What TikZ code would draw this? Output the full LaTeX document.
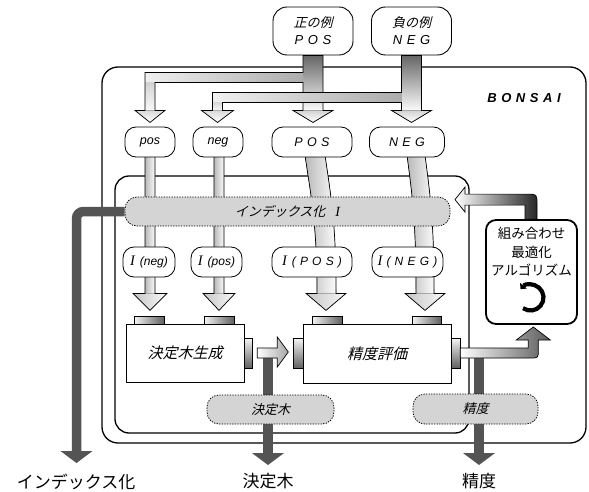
\documentclass[tikz,border=0pt]{standalone}
\usepackage{fontspec}
\setmainfont{Liberation Sans}
\newfontfamily\jp{Noto Sans CJK JP}
\newfontfamily\jpit{Noto Sans CJK JP}[FakeSlant=0.25]
\newfontfamily\spaced{Liberation Sans}[LetterSpace=35]
\newfontfamily\tms{Liberation Serif}
\usetikzlibrary{arrows.meta}
\pgfdeclarelayer{frames}
\pgfdeclarelayer{pipes}
\pgfdeclarelayer{over}
\pgfdeclarelayer{labels}
\pgfsetlayers{frames,pipes,main,over,labels}
\definecolor{pipegray}{gray}{0.33}
\definecolor{barfill}{gray}{0.83}

\begin{document}
\begin{tikzpicture}[x=1pt, y=-1pt,
  frame/.style={draw, line width=1.3pt},
  topbox/.style={draw, fill=white, line width=0.9pt, rounded corners=14pt, minimum width=80pt, minimum height=48pt, inner sep=0pt, align=center, font=\fontsize{13}{17}\selectfont},
  pill/.style={draw, fill=white, line width=0.8pt, rounded corners=11pt, minimum height=30pt, inner sep=0pt, font=\fontsize{12.5}{14}\selectfont},
  dashbar/.style={draw, fill=barfill, line width=0.8pt, dash pattern=on 1.3pt off 1.3pt, rounded corners=12pt, inner sep=0pt, font=\jpit\fontsize{13}{14}\selectfont},
  procbox/.style={draw, fill=white, line width=0.8pt, inner sep=0pt, font=\jpit\fontsize{15}{16}\selectfont},
  port/.style={draw, line width=0.6pt, inner sep=0pt, left color=gray!8, right color=gray!75!black},
  sideport/.style={draw, line width=0.6pt, inner sep=0pt, top color=gray!8, bottom color=gray!75!black},
  darkpipe/.style={draw=pipegray, line width=9.5pt, -{Triangle[length=12pt, width=32pt, line width=0pt]}},
  lightpipe/.style={draw, line width=0.7pt},
  shaftshade/.style={left color=gray!55, right color=gray!3},
  headshade/.style={left color=gray!45, right color=gray!5},
  outlabel/.style={font=\jp\fontsize{17}{19}\selectfont, inner sep=0pt},
  algtext/.style={font=\jp\fontsize{13.5}{18.5}\selectfont, align=center, inner sep=0pt},
  bigI/.style={},
]
\useasboundingbox (0,0) rectangle (589,492);

% ---------- frames ----------
\begin{pgfonlayer}{frames}
  \fill[white] (0,0) rectangle (589,492);
  \draw[frame, rounded corners=16pt] (102,67) rectangle (586,443);
  \draw[frame, rounded corners=14pt] (115,176) rectangle (469,433);
\end{pgfonlayer}

% ---------- nodes ----------
\node[topbox] (pe) at (313,31) {{\jpit 正の例}\\{\spaced\itshape POS}};
\node[topbox] (ne) at (411.5,31) {{\jpit 負の例}\\{\spaced\itshape NEG}};

\node[font=\spaced\bfseries\itshape\fontsize{13}{14}\selectfont] (bonsai) at (524,98) {BONSAI};

\node[pill, minimum width=50pt] (pos) at (150,142) {\itshape pos};
\node[pill, minimum width=50pt] (neg) at (218,142) {\itshape neg};
\node[pill, minimum width=80pt] (POS) at (312,142) {\spaced\itshape POS};
\node[pill, minimum width=75pt] (NEG) at (407,142) {\spaced\itshape NEG};

\node[dashbar, minimum width=325pt, minimum height=29pt] (idx) at (287.5,211.5)
  {インデックス化\hspace{10pt}{\tms\itshape\fontsize{14}{14}\selectfont I}};

\node[pill, minimum width=52pt] (ineg) at (149,262)
  {{\tms\itshape\fontsize{14.5}{14}\selectfont I}\hspace{5pt}{\itshape\fontsize{12}{12}\selectfont (neg)}};
\node[pill, minimum width=51pt] (ipos) at (216.5,262)
  {{\tms\itshape\fontsize{14.5}{14}\selectfont I}\hspace{5pt}{\itshape\fontsize{12}{12}\selectfont (pos)}};
\node[pill, minimum width=80pt] (iPOS) at (312,262)
  {{\tms\itshape\fontsize{14.5}{14}\selectfont I}\hspace{5pt}{\spaced\itshape\fontsize{12}{12}\selectfont (POS)}};
\node[pill, minimum width=71pt] (iNEG) at (407.5,262)
  {{\tms\itshape\fontsize{14.5}{14}\selectfont I}\hspace{4pt}{\spaced\itshape\fontsize{12}{12}\selectfont (NEG)}};

\node[procbox, minimum width=118pt, minimum height=58pt] (gen) at (185,353) {決定木生成};
\node[procbox, minimum width=148pt, minimum height=59pt] (eval) at (377,353.5) {精度評価};

\node[port, minimum width=30pt, minimum height=8pt] (gp1) at (149,320) {};
\node[port, minimum width=30pt, minimum height=8pt] (gp2) at (219,320) {};
\node[sideport, minimum width=8pt, minimum height=30pt] (gport) at (248,353) {};
\node[port, minimum width=30pt, minimum height=8pt] (ep1) at (327,320) {};
\node[port, minimum width=29pt, minimum height=8pt] (ep2) at (426.5,320) {};
\node[sideport, minimum width=10pt, minimum height=30pt] (eportw) at (298,353) {};
\node[sideport, minimum width=9pt, minimum height=30pt] (eporte) at (455.5,353) {};

\node[draw, fill=white, line width=1.8pt, rounded corners=10pt, minimum width=91pt, minimum height=104pt] (alg) at (531.5,272) {};
\node[algtext] (algt) at (531.5,252) {組み合わせ\\最適化\\アルゴリズム};
% the cycle mark of the optimiser
\draw[line width=4.2pt, {Triangle[length=4.5pt,width=9pt,line width=0pt]}-]
  (530.5,297.5) ++(140:13pt) arc[start angle=140, end angle=-125, radius=13pt];

\node[outlabel] (oidx) at (76,482) {インデックス化};
\node[outlabel] (otree) at (268,481) {決定木};
\node[outlabel] (oacc) at (479,481) {精度};
\coordinate (idxend) at (76.5,463);
\coordinate (treeend) at (268,465);
\coordinate (accend) at (479,465);
\coordinate (tsplit) at (268,352);
\coordinate (asplit) at (479,353);

% ---------- input pipes ----------
\begin{pgfonlayer}{pipes}
  % positive examples: main pipe and branch to pos
  \begin{scope}[shift={(pe.south)}]
    \fill[top color=gray!80!black, bottom color=gray!3] (-10,0) rectangle (10,55);
    \fill[top color=gray!35, bottom color=white] (-20,55) -- (0,67) -- (20,55) -- cycle;
    \fill[left color=gray!12, right color=gray!65] (-168,17) rectangle (-10,27);
    \fill[top color=gray!35, bottom color=gray!5] (-168,27) rectangle (-158,55);
    \fill[top color=gray!30, bottom color=white] (-178,55) -- (-163,67) -- (-148,55) -- cycle;
    \draw[lightpipe] (-10,0) -- (10,0) -- (10,55) -- (20,55) -- (0,67) -- (-20,55) -- (-10,55)
      -- (-10,27) -- (-158,27) -- (-158,55) -- (-148,55) -- (-163,67) -- (-178,55) -- (-168,55)
      -- (-168,17) -- (-10,17) -- cycle;
  \end{scope}
  % negative examples: main pipe and branch to neg
  \begin{scope}[shift={(ne.south)}]
    \fill[top color=gray!80!black, bottom color=gray!3] (-10,0) rectangle (10,55);
    \fill[top color=gray!35, bottom color=white] (-20,55) -- (0,67) -- (20,55) -- cycle;
    \fill[left color=gray!12, right color=gray!65] (-199,37) rectangle (-10,47);
    \fill[top color=gray!30, bottom color=gray!5] (-199,47) rectangle (-189,55);
    \fill[top color=gray!30, bottom color=white] (-210,55) -- (-194,67) -- (-178,55) -- cycle;
    \draw[lightpipe] (-10,0) -- (10,0) -- (10,55) -- (20,55) -- (0,67) -- (-20,55) -- (-10,55)
      -- (-10,47) -- (-189,47) -- (-189,55) -- (-178,55) -- (-194,67) -- (-210,55) -- (-199,55)
      -- (-199,37) -- (-10,37) -- cycle;
  \end{scope}
  % pos and neg down to the generator
  \begin{scope}[shift={(pos.south)}]
    \fill[shaftshade] (-5,-2) rectangle (5,136);
    \fill[headshade] (-17,136) -- (0,153) -- (17,136) -- cycle;
    \draw[lightpipe] (-5,-2) -- (-5,136) -- (-17,136) -- (0,153) -- (17,136) -- (5,136) -- (5,-2);
  \end{scope}
  \begin{scope}[shift={(neg.south)}]
    \fill[shaftshade] (-4,-2) rectangle (6,136);
    \fill[headshade] (-15,136) -- (1,153) -- (17,136) -- cycle;
    \draw[lightpipe] (-4,-2) -- (-4,136) -- (-15,136) -- (1,153) -- (17,136) -- (6,136) -- (6,-2);
  \end{scope}
  % POS and NEG down to the evaluator
  \begin{scope}[shift={(POS.south)}]
    \fill[shaftshade] (-7,-2) .. controls (0,45) and (5,70) .. (5,136) -- (24,136)
      .. controls (24,70) and (20,45) .. (13,-2) -- cycle;
    \fill[headshade] (-6,136) -- (14,153) -- (34,136) -- cycle;
    \draw[lightpipe] (-7,-2) .. controls (0,45) and (5,70) .. (5,136) -- (-6,136) -- (14,153)
      -- (34,136) -- (24,136) .. controls (24,70) and (20,45) .. (13,-2);
  \end{scope}
  \begin{scope}[shift={(NEG.south)}]
    \fill[shaftshade] (0,-2) .. controls (6,43) and (9,68) .. (9,136) -- (27,136)
      .. controls (27,68) and (24,43) .. (18,-2) -- cycle;
    \fill[headshade] (-2,136) -- (18,153) -- (38,136) -- cycle;
    \draw[lightpipe] (0,-2) .. controls (6,43) and (9,68) .. (9,136) -- (-2,136) -- (18,153)
      -- (38,136) -- (27,136) .. controls (27,68) and (24,43) .. (18,-2);
  \end{scope}
\end{pgfonlayer}

% ---------- outputs and internal flows ----------
\begin{pgfonlayer}{over}
  \draw[darkpipe, rounded corners=7pt] (idx.west) -- (idx.west -| idxend) -- (idxend);
  \draw[darkpipe] (tsplit) -- (treeend);
  \draw[darkpipe] (asplit) -- (accend);
  % generator to evaluator
  \begin{scope}[shift={(gport.east)}]
    \draw[lightpipe, left color=white, right color=gray!70] (5,-5) -- (25,-5) -- (25,-16)
      -- (36,-1) -- (25,14) -- (25,5) -- (5,5) -- cycle;
  \end{scope}
  % evaluator to the optimiser
  \begin{scope}[shift={(eporte.east)}]
    \draw[lightpipe, left color=white, right color=gray!70!black] (0,-5) -- (68,-5) -- (68,-13)
      -- (56,-13) -- (73,-26) -- (90,-13) -- (78,-13) -- (78,-3) .. controls (78,5) .. (70,5)
      -- (0,5) -- cycle;
  \end{scope}
  % optimiser back to the index
  \begin{scope}[shift={(alg.north)}]
    \draw[lightpipe, left color=white, right color=gray!30!black] (-6.5,0) -- (-6.5,-14)
      -- (-66.5,-14) -- (-66.5,-7) -- (-76.5,-19.5) -- (-66.5,-32) -- (-66.5,-25) -- (-4.5,-25)
      .. controls (5.5,-25) .. (5.5,-15) -- (5.5,0) -- cycle;
  \end{scope}
\end{pgfonlayer}

\begin{pgfonlayer}{labels}
  \node[dashbar, minimum width=127pt, minimum height=29pt] (tree) at (270.5,409.5) {決定木};
  \node[dashbar, minimum width=125pt, minimum height=30pt] (acc) at (475.5,409) {精度};
\end{pgfonlayer}
\end{tikzpicture}
\end{document}
